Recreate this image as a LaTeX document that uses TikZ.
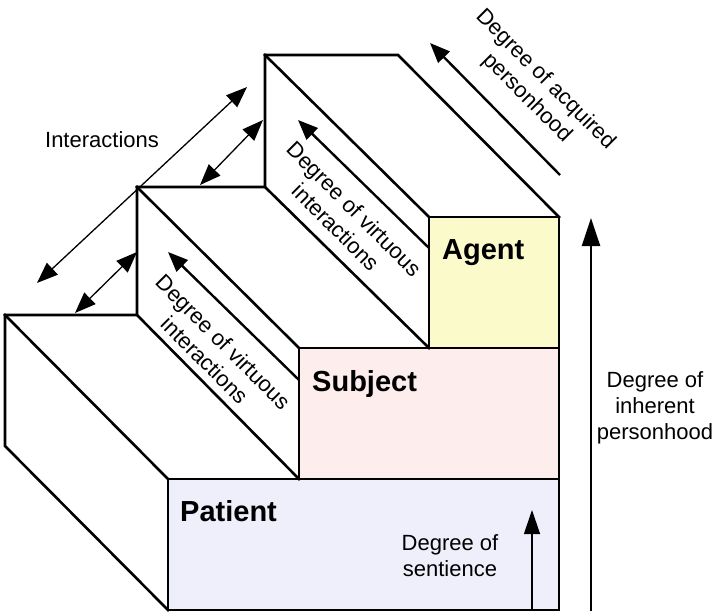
\documentclass[tikz,border=0pt]{standalone}
\usepackage{fontspec}
\setmainfont{Liberation Sans}
\usetikzlibrary{arrows.meta}
\definecolor{patientfill}{HTML}{EFEFFC}
\definecolor{subjectfill}{HTML}{FDEDEC}
\definecolor{agentfill}{HTML}{FAFACB}
\begin{document}
\begin{tikzpicture}[x=1pt,y=-1pt,
  outline/.style={line width=2.6pt, line join=miter, line cap=rect},
  stepbox/.style={draw, line width=2.6pt, inner sep=0pt, outer sep=0pt, anchor=north west},
  dbl/.style={line width=1.3pt, {Triangle[length=21pt,width=16pt]}-{Triangle[length=21pt,width=16pt]}},
  deg/.style={line width=2.4pt, -{Triangle[length=20pt,width=16pt]}},
  thinarrow/.style={line width=1.3pt, -{Triangle[length=24pt,width=16pt]}},
  lbl/.style={font=\fontsize{22}{26}\selectfont, align=center, inner sep=0pt},
  steplabel/.style={font=\fontsize{29}{34}\selectfont\bfseries, anchor=base west, inner sep=0pt}]
\useasboundingbox (0,0) rectangle (715,613);

% front faces
\node[stepbox, fill=patientfill, minimum width=391pt, minimum height=131pt] (patient) at (168,479) {};
\node[stepbox, fill=subjectfill, minimum width=260pt, minimum height=131pt] (subject) at (299,348) {};
\node[stepbox, fill=agentfill, minimum width=130pt, minimum height=131pt] (agent) at (429,217) {};

% outline corners
\coordinate (a1) at (168,610);
\coordinate (a2) at (5,446);
\coordinate (a3) at (5,315);
\coordinate (a4) at (137,315);
\coordinate (a5) at (137,187);
\coordinate (a6) at (265,187);
\coordinate (a7) at (265,55);
\coordinate (a8) at (398,55);
\coordinate (a9) at (559,217);
\coordinate (f1) at (168,479);
\coordinate (f2) at (299,479);
\coordinate (f3) at (299,348);
\coordinate (f4) at (429,348);
\coordinate (f5) at (429,217);

\draw[outline] (a1) -- (a2) -- (a3) -- (a4) -- (a5) -- (a6) -- (a7) -- (a8) -- (a9);
\draw[outline] (a3) -- (f1);
\draw[outline] (a4) -- (f2);
\draw[outline] (a5) -- (f3);
\draw[outline] (a6) -- (f4);
\draw[outline] (a7) -- (f5);

% interaction arrows
\coordinate (i1a) at (37,283);
\coordinate (i1b) at (247,87);
\coordinate (i2a) at (75,313);
\coordinate (i2b) at (137,252);
\coordinate (i3a) at (200,185);
\coordinate (i3b) at (263,120);
\draw[dbl] (i1a) -- (i1b);
\draw[dbl] (i2a) -- (i2b);
\draw[dbl] (i3a) -- (i3b);
\node[lbl] (interactions) at (102,140) {Interactions};

% virtuous interactions
\coordinate (v3a) at (429,248);
\coordinate (v3b) at (298,120);
\coordinate (v2a) at (299,380);
\coordinate (v2b) at (168,252);
\draw[deg] (v3a) -- (v3b);
\draw[deg] (v2a) -- (v2b);
\node[lbl, rotate=-45] (virt3) at (345,218) {Degree of virtuous\\interactions};
\node[lbl, rotate=-45] (virt2) at (214,351) {Degree of virtuous\\interactions};

% acquired personhood
\coordinate (q1) at (560,175);
\coordinate (q2) at (430,43);
\draw[deg] (q1) -- (q2);
\node[lbl, rotate=-45] (acquired) at (536,89) {Degree of acquired\\personhood};

% inherent personhood
\coordinate (h1) at (591,611);
\coordinate (h2) at (591,218);
\draw[line width=2.4pt, -{Triangle[length=28pt,width=18pt]}] (h1) -- (h2);
\node[lbl] (inherent) at (655,408) {Degree of\\inherent\\personhood};

% sentience
\coordinate (s1) at (532,610);
\coordinate (s2) at (532,510);
\draw[thinarrow] (s1) -- (s2);
\node[lbl] (sentience) at (450,556) {Degree of\\sentience};

% step labels
\node[steplabel] (patientlbl) at (180,521) {Patient};
\node[steplabel] (subjectlbl) at (312,391) {Subject};
\node[steplabel] (agentlbl) at (442,259) {Agent};
\end{tikzpicture}
\end{document}
